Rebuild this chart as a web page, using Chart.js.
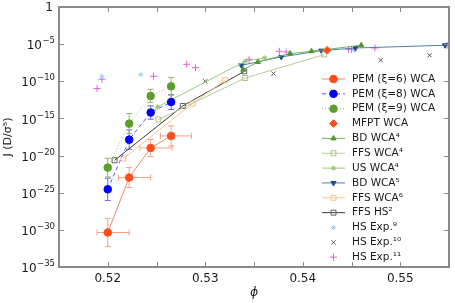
<!DOCTYPE html>
<html lang="en">
  <head>
    <meta charset="UTF-8" />
    <title>Nucleation rate vs packing fraction</title>
    <script src="https://cdn.jsdelivr.net/npm/chart.js"></script>
    <style>
      body {
        margin: 0;
        background: #ffffff;
      }
      #wrap {
        width: 455px;
        height: 303px;
      }
    </style>
  </head>
  <body>
    <div id="wrap"><canvas id="rateChart"></canvas></div>
    <script>
      // phi values and nucleation rates J (D/sigma^5)
      const pem6Phi = [0.52, 0.5222, 0.5244, 0.5265];
      const pem6J = [4.4e-31, 1.1e-23, 1.05e-19, 4.4e-18];
      const pem6Err = [1.9, 1.35, 1.15, 1.35]; // decades
      const pem6PhiLo = [0.0011, 0.0011, 0.0011, 0.0011];
      const pem6PhiHi = [0.0022, 0.0022, 0.0022, 0.0021];

      const pem8Phi = [0.52, 0.5222, 0.5244, 0.5265];
      const pem8J = [2.9e-25, 1.4e-18, 6.2e-15, 1.6e-13];
      const pem8Err = [1.5, 1.3, 0.9, 1.0];

      const pem9Phi = [0.52, 0.5222, 0.5244, 0.5265];
      const pem9J = [2.4e-22, 2.0e-16, 1.05e-12, 2.1e-11];
      const pem9Err = [1.25, 1.35, 0.9, 1.2];

      const mfptPhi = [0.5425];
      const mfptJ = [1.5e-6];

      const bd4Phi = [0.5339, 0.5354, 0.5387, 0.5409, 0.546];
      const bd4J = [3.7e-9, 4.0e-8, 5.4e-7, 1.1e-6, 7.1e-6];

      const ffs4Phi = [0.5252, 0.5341, 0.5422];
      const ffs4J = [7.1e-16, 2.75e-10, 3.9e-7];

      const us4Phi = [0.5251, 0.5341, 0.5361];
      const us4J = [3.5e-14, 4.9e-8, 1.4e-7];

      const bd5Phi = [0.5337, 0.5378, 0.5419, 0.5454, 0.5546];
      const bd5J = [1.4e-8, 1.9e-7, 1.35e-6, 3.0e-6, 7.1e-6];

      const ffs6Phi = [0.5216, 0.5287, 0.532];
      const ffs6J = [4.0e-21, 1.0e-13, 1.35e-10];

      const ffsHsPhi = [0.5207, 0.5277, 0.534];
      const ffsHsJ = [2.3e-21, 4.8e-14, 2.2e-9];

      const hs9Phi = [0.5194, 0.5234, 0.5453];
      const hs9J = [4.7e-10, 7.9e-10, 1.5e-6];

      const hs10Phi = [0.53, 0.537, 0.548, 0.553];
      const hs10J = [1.0e-10, 1.1e-9, 6.8e-8, 3.2e-7];

      const hs11Phi = [0.5189, 0.5194, 0.5247, 0.5281, 0.529, 0.5345, 0.5376, 0.5383, 0.5447, 0.545, 0.5474, 0.5548];
      const hs11J = [1.05e-11, 1.9e-10, 4.7e-10, 1.95e-8, 6.9e-9, 9.1e-8, 1.1e-6, 8.7e-7, 2.0e-6, 2.0e-6, 3.0e-6, 7.1e-6];

      const xTicks = [0.52, 0.53, 0.54, 0.55];
      const yTickExps = [-35, -30, -25, -20, -15, -10, -5, 0];

      const AXIS = "#8a8a8a";
      const FONT = "'DejaVu Sans', sans-serif";

      function pts(xs, ys) {
        return xs.map((x, i) => ({ x: x, y: ys[i] }));
      }

      function series(label, xs, ys, o) {
        return Object.assign(
          {
            label: label,
            data: pts(xs, ys),
            showLine: true,
            borderWidth: 1,
            pointBorderWidth: 1,
            pointRadius: 3,
          },
          o
        );
      }

      const datasets = [
        series("PEM (\u03be=6) WCA", pem6Phi, pem6J, {
          borderColor: "#f4876a",
          pointBackgroundColor: "#ff4d1a",
          pointBorderColor: "#ff4d1a",
          pointRadius: 3.8,
          yErr: pem6Err,
          xLo: pem6PhiLo,
          xHi: pem6PhiHi,
          errColor: "#f6a088",
        }),
        series("PEM (\u03be=8) WCA", pem8Phi, pem8J, {
          borderColor: "#5a5aff",
          borderDash: [4, 3],
          pointBackgroundColor: "#0000ff",
          pointBorderColor: "#0000ff",
          pointRadius: 3.8,
          yErr: pem8Err,
          errColor: "#6a6ae8",
        }),
        series("PEM (\u03be=9) WCA", pem9Phi, pem9J, {
          borderColor: "#9cc07a",
          borderDash: [1, 2],
          pointBackgroundColor: "#5c9e2c",
          pointBorderColor: "#5c9e2c",
          pointRadius: 3.8,
          yErr: pem9Err,
          errColor: "#8fb86a",
        }),
        series("MFPT WCA", mfptPhi, mfptJ, {
          showLine: false,
          borderColor: "#ff4d1a",
          pointStyle: "rectRot",
          pointBackgroundColor: "#ff4d1a",
          pointBorderColor: "#ff4d1a",
          pointRadius: 3.8,
        }),
        series("BD WCA\u2074", bd4Phi, bd4J, {
          borderColor: "#79ae5a",
          pointStyle: "triangle",
          pointBackgroundColor: "#4c9a2a",
          pointBorderColor: "#4c9a2a",
          pointRadius: 3,
        }),
        series("FFS WCA\u2074", ffs4Phi, ffs4J, {
          borderColor: "#b5cc98",
          pointStyle: "rect",
          pointBackgroundColor: "rgba(255,255,255,0)",
          pointBorderColor: "#a8c28a",
          pointRadius: 3.5,
        }),
        series("US WCA\u2074", us4Phi, us4J, {
          borderColor: "#9ccb7c",
          pointStyle: "star",
          pointBackgroundColor: "#8cc46a",
          pointBorderColor: "#8cc46a",
          pointRadius: 2.6,
        }),
        series("BD WCA\u2075", bd5Phi, bd5J, {
          borderColor: "#4f7fa8",
          pointStyle: "triangle",
          pointRotation: 180,
          pointBackgroundColor: "#1f4e86",
          pointBorderColor: "#1f4e86",
          pointRadius: 3,
        }),
        series("FFS WCA\u2076", ffs6Phi, ffs6J, {
          borderColor: "#f7c894",
          pointStyle: "rect",
          pointBackgroundColor: "rgba(255,255,255,0)",
          pointBorderColor: "#f6be84",
          pointRadius: 3.5,
        }),
        series("FFS HS\u00b2", ffsHsPhi, ffsHsJ, {
          borderColor: "#3a3a3a",
          pointStyle: "rect",
          pointBackgroundColor: "rgba(255,255,255,0)",
          pointBorderColor: "#606060",
          pointRadius: 3.5,
        }),
        series("HS Exp.\u2079", hs9Phi, hs9J, {
          showLine: false,
          borderColor: "#9fd3f0",
          pointStyle: "star",
          pointBackgroundColor: "#9fd3f0",
          pointBorderColor: "#9fd3f0",
          pointRadius: 2.5,
        }),
        series("HS Exp.\u00b9\u2070", hs10Phi, hs10J, {
          showLine: false,
          borderColor: "#555555",
          pointStyle: "crossRot",
          pointBorderColor: "#555555",
          pointRadius: 3,
        }),
        series("HS Exp.\u00b9\u00b9", hs11Phi, hs11J, {
          showLine: false,
          borderColor: "#e060e0",
          pointStyle: "cross",
          pointBorderColor: "#e060e0",
          pointRadius: 3.5,
        }),
      ];

      // error bars drawn under the markers
      const errorBars = {
        id: "errorBars",
        beforeDatasetsDraw(chart) {
          const ctx = chart.ctx;
          const xs = chart.scales.x;
          const ys = chart.scales.y;
          ctx.save();
          ctx.lineWidth = 1;
          chart.data.datasets.forEach((ds) => {
            if (!ds.yErr) return;
            ctx.strokeStyle = ds.errColor;
            ds.data.forEach((p, i) => {
              const px = xs.getPixelForValue(p.x);
              const py = ys.getPixelForValue(p.y);
              const e = ds.yErr[i];
              const top = ys.getPixelForValue(p.y * Math.pow(10, e));
              const bot = ys.getPixelForValue(p.y / Math.pow(10, e));
              ctx.beginPath();
              ctx.moveTo(px, top);
              ctx.lineTo(px, bot);
              ctx.moveTo(px - 3, top);
              ctx.lineTo(px + 3, top);
              ctx.moveTo(px - 3, bot);
              ctx.lineTo(px + 3, bot);
              if (ds.xLo) {
                const l = xs.getPixelForValue(p.x - ds.xLo[i]);
                const r = xs.getPixelForValue(p.x + ds.xHi[i]);
                ctx.moveTo(l, py);
                ctx.lineTo(r, py);
                ctx.moveTo(l, py - 3);
                ctx.lineTo(l, py + 3);
                ctx.moveTo(r, py - 3);
                ctx.lineTo(r, py + 3);
              }
              ctx.stroke();
            });
          });
          ctx.restore();
        },
      };

      // box frame with inward ticks on all four sides, plus 10^n labels
      const frame = {
        id: "frame",
        afterDraw(chart) {
          const ctx = chart.ctx;
          const a = chart.chartArea;
          const xs = chart.scales.x;
          const ys = chart.scales.y;
          ctx.save();
          ctx.strokeStyle = AXIS;
          ctx.lineWidth = 1;
          ctx.beginPath();
          for (let v = 0.515; v < 0.5551; v += 0.005) {
            const px = Math.round(xs.getPixelForValue(v)) + 0.5;
            ctx.moveTo(px, a.bottom);
            ctx.lineTo(px, a.bottom - 5);
            ctx.moveTo(px, a.top);
            ctx.lineTo(px, a.top + 5);
          }
          yTickExps.forEach((e) => {
            const py = Math.round(ys.getPixelForValue(Math.pow(10, e))) + 0.5;
            ctx.moveTo(a.left, py);
            ctx.lineTo(a.left + 5, py);
            ctx.moveTo(a.right, py);
            ctx.lineTo(a.right - 5, py);
          });
          ctx.stroke();
          ctx.lineWidth = 2;
          ctx.strokeRect(a.left, a.top, a.right - a.left, a.bottom - a.top);

          // y tick labels with raised exponents
          ctx.fillStyle = "#1a1a1a";
          ctx.textBaseline = "middle";
          ctx.textAlign = "left";
          const right = a.left - 4;
          yTickExps.forEach((e) => {
            const py = ys.getPixelForValue(Math.pow(10, e));
            if (e === 0) {
              ctx.font = "12px " + FONT;
              ctx.textAlign = "right";
              ctx.fillText("1", right - 2, py + 1);
              ctx.textAlign = "left";
              return;
            }
            const sup = "\u2212" + String(-e);
            ctx.font = "8.5px " + FONT;
            const ws = ctx.measureText(sup).width;
            ctx.font = "12px " + FONT;
            const wb = ctx.measureText("10").width;
            const x0 = right - ws - wb - 0.5;
            ctx.fillText("10", x0, py + 2);
            ctx.font = "8.5px " + FONT;
            ctx.fillText(sup, x0 + wb + 0.5, py - 3);
          });
          ctx.restore();
        },
      };

      // legend inside the plot, lower right
      const insideLegend = {
        id: "insideLegend",
        afterDraw(chart) {
          const ctx = chart.ctx;
          const x0 = 322;
          const x1 = 345;
          const tx = 352;
          const y0 = 79;
          const step = 14.85;
          ctx.save();
          ctx.font = "10.5px " + FONT;
          ctx.textBaseline = "middle";
          chart.data.datasets.forEach((ds, i) => {
            const y = y0 + i * step;
            if (ds.showLine) {
              ctx.strokeStyle = ds.borderColor;
              ctx.lineWidth = 1;
              ctx.setLineDash(ds.borderDash || []);
              ctx.beginPath();
              ctx.moveTo(x0, y);
              ctx.lineTo(x1, y);
              ctx.stroke();
              ctx.setLineDash([]);
            }
            ctx.fillStyle = ds.pointBackgroundColor || "rgba(0,0,0,0)";
            ctx.strokeStyle = ds.pointBorderColor;
            ctx.lineWidth = 1;
            Chart.helpers.drawPoint(ctx, {
              pointStyle: ds.pointStyle || "circle",
              radius: ds.pointRadius,
              rotation: ds.pointRotation || 0,
              borderWidth: 1,
            }, (x0 + x1) / 2, y);
            ctx.fillStyle = "#1a1a1a";
            ctx.fillText(ds.label, tx, y);
          });
          ctx.restore();
        },
      };

      new Chart(document.getElementById("rateChart"), {
        type: "scatter",
        data: { datasets: datasets },
        options: {
          responsive: true,
          maintainAspectRatio: false,
          animation: false,
          layout: { padding: { top: 7, right: 6, left: 0, bottom: 0 } },
          plugins: {
            legend: { display: false },
            tooltip: { enabled: false },
          },
          scales: {
            x: {
              type: "linear",
              min: 0.515,
              max: 0.555,
              grid: { display: false, drawTicks: false },
              border: { display: false },
              afterBuildTicks: (s) => {
                s.ticks = xTicks.map((v) => ({ value: v }));
              },
              afterFit: (s) => {
                s.height = 36;
              },
              ticks: {
                color: "#1a1a1a",
                font: { family: FONT, size: 12 },
                padding: 5,
                maxRotation: 0,
                callback: (v) => v.toFixed(2),
              },
              title: {
                display: true,
                text: "\u03d5",
                color: "#1a1a1a",
                font: { family: FONT, size: 12.5, style: "italic" },
                padding: { top: 0, bottom: 3 },
              },
            },
            y: {
              type: "logarithmic",
              min: 1e-35,
              max: 1,
              grid: { display: false, drawTicks: false },
              border: { display: false },
              afterBuildTicks: (s) => {
                s.ticks = yTickExps.map((e) => ({ value: Math.pow(10, e) }));
              },
              afterFit: (s) => {
                s.width = 59;
              },
              ticks: { display: false },
              title: {
                display: true,
                text: "J (D/\u03c3\u2075)",
                color: "#1a1a1a",
                font: { family: FONT, size: 11 },
                padding: { top: 2, bottom: 0 },
              },
            },
          },
        },
        plugins: [errorBars, frame, insideLegend],
      });
    </script>
  </body>
</html>
